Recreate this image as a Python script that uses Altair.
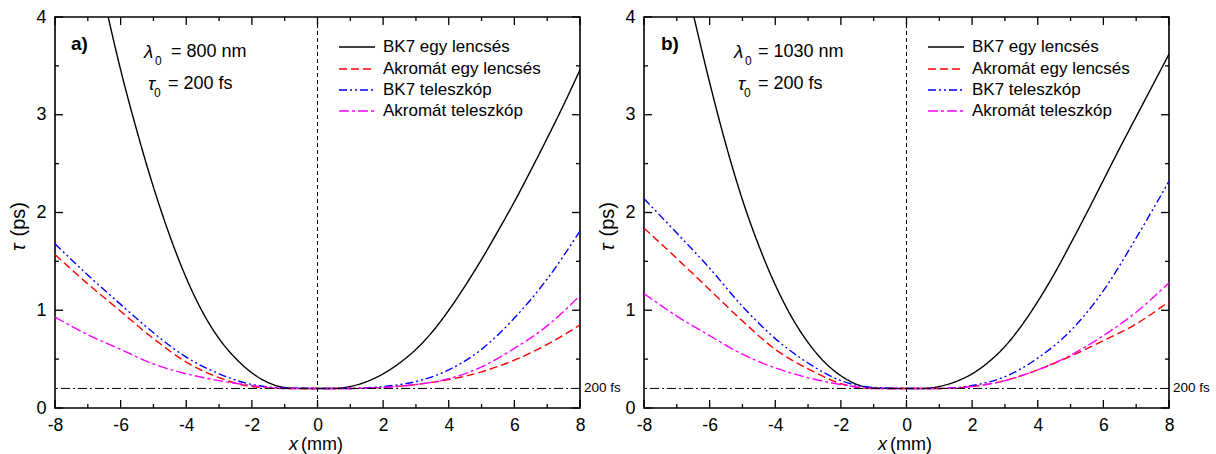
import altair as alt
import pandas as pd

# ---------------- data ----------------
SERIES = ["BK7 egy lencsés", "Akromát egy lencsés", "BK7 teleszkóp", "Akromát teleszkóp"]
COLORS = ["#000000", "#FF0000", "#0000FF", "#FF00FF"]
DASHES = [[1, 0], [8, 4], [8, 3, 2, 3, 2, 3], [10, 3, 3, 3]]

X_HALF = [-8, -7.5, -7, -6.5, -6, -5.5, -5, -4.5, -4, -3.5, -3, -2.5, -2, -1.5, -1, -0.5,
          0, 0.5, 1, 1.5, 2, 2.5, 3, 3.5, 4, 4.5, 5, 5.5, 6, 6.5, 7, 7.5, 8]
X_INT = [-8, -7, -6, -5, -4, -3, -2, -1, 0, 1, 2, 3, 4, 5, 6, 7, 8]

# panel a) lambda0 = 800 nm
BLACK_800 = [6.55, 5.74, 4.95, 4.18, 3.46, 2.83, 2.26, 1.76, 1.33, 0.98, 0.71, 0.51, 0.36, 0.26, 0.21, 0.20,
             0.20, 0.20, 0.22, 0.27, 0.35, 0.46, 0.60, 0.78, 1.00, 1.25, 1.52, 1.81, 2.11, 2.43, 2.76, 3.10, 3.46]
RED_800 = [1.57, 1.27, 0.99, 0.71, 0.47, 0.31, 0.22, 0.20, 0.20, 0.20, 0.21, 0.24, 0.29, 0.37, 0.49, 0.65, 0.85]
BLUE_800 = [1.68, 1.36, 1.06, 0.77, 0.52, 0.35, 0.24, 0.205, 0.20, 0.20, 0.22, 0.27, 0.39, 0.60, 0.92, 1.32, 1.81]
MAG_800 = [0.93, 0.75, 0.60, 0.45, 0.35, 0.28, 0.23, 0.20, 0.20, 0.20, 0.21, 0.24, 0.30, 0.42, 0.61, 0.84, 1.15]

# panel b) lambda0 = 1030 nm
BLACK_1030 = [6.3, 5.5, 4.75, 4.03, 3.33, 2.69, 2.13, 1.66, 1.26, 0.93, 0.67, 0.47, 0.33, 0.24, 0.205, 0.20,
              0.20, 0.20, 0.22, 0.27, 0.35, 0.47, 0.63, 0.84, 1.09, 1.37, 1.68, 2.00, 2.33, 2.66, 2.98, 3.30, 3.62]
RED_1030 = [1.84, 1.53, 1.21, 0.89, 0.60, 0.40, 0.25, 0.20, 0.20, 0.20, 0.22, 0.28, 0.39, 0.53, 0.69, 0.86, 1.09]
BLUE_1030 = [2.14, 1.79, 1.43, 1.04, 0.71, 0.46, 0.28, 0.21, 0.20, 0.20, 0.23, 0.32, 0.51, 0.79, 1.20, 1.74, 2.32]
MAG_1030 = [1.17, 0.94, 0.74, 0.55, 0.41, 0.31, 0.24, 0.20, 0.20, 0.20, 0.22, 0.28, 0.39, 0.54, 0.74, 0.98, 1.28]

X_MAJOR = [-8, -6, -4, -2, 0, 2, 4, 6, 8]
X_MINOR = [-7, -5, -3, -1, 1, 3, 5, 7]
Y_MAJOR = [0, 1, 2, 3, 4]
Y_MINOR = [0.5, 1.5, 2.5, 3.5]
TAU0 = [0.2]
TAU0_LABEL = ["200 fs"]

W, H = 525, 391
FONT = "Liberation Sans"

xs = alt.Scale(domain=[-8, 8], nice=False, zero=False)
ys = alt.Scale(domain=[0, 4], nice=False, zero=False)
XAXIS = alt.Axis(values=X_MAJOR, labelExpr="datum.value + ''", ticks=False, domain=False,
                 grid=False, labelFontSize=17.5, labelPadding=8, title=None,
                 labelColor="black", labelFont=FONT, labelFlush=False)
YAXIS = alt.Axis(values=Y_MAJOR, ticks=False, domain=False, grid=False, labelFontSize=18,
                 labelPadding=9, title=None, labelColor="black", labelFont=FONT)
ONE = pd.DataFrame({"a": [0]})


def txt(x, y, s, size, style="normal", weight="normal", align="left", angle=0):
    return alt.Chart(ONE).mark_text(
        align=align, baseline="middle", fontSize=size, fontStyle=style,
        fontWeight=weight, angle=angle, font=FONT, color="black"
    ).encode(x=alt.value(x), y=alt.value(y), text=alt.value(s))


def ticks(vals, axis, side, length):
    d = pd.DataFrame({"v": vals})
    m = alt.Chart(d).mark_rule(color="black", strokeWidth=1.3)
    if axis == "x":
        if side == "bottom":
            return m.encode(x=alt.X("v:Q", scale=xs, axis=XAXIS), y=alt.value(H), y2=alt.value(H - length))
        return m.encode(x=alt.X("v:Q", scale=xs, axis=XAXIS), y=alt.value(0), y2=alt.value(length))
    if side == "left":
        return m.encode(y=alt.Y("v:Q", scale=ys, axis=YAXIS), x=alt.value(0), x2=alt.value(length))
    return m.encode(y=alt.Y("v:Q", scale=ys, axis=YAXIS), x=alt.value(W), x2=alt.value(W - length))


def panel(black, red, blue, mag, tag, wl, eq_dx1, eq_dx2, tag_dx, lam_dx):
    rows = []
    for x, y in zip(X_HALF, black):
        rows.append({"x": x, "y": y, "s": SERIES[0]})
    for name, vals in zip(SERIES[1:], [red, blue, mag]):
        for x, y in zip(X_INT, vals):
            rows.append({"x": x, "y": y, "s": name})
    df = pd.DataFrame(rows)

    curves = alt.Chart(df).mark_line(clip=True, strokeWidth=1.4, interpolate="monotone").encode(
        x=alt.X("x:Q", scale=xs, axis=XAXIS),
        y=alt.Y("y:Q", scale=ys, axis=YAXIS),
        color=alt.Color("s:N", scale=alt.Scale(domain=SERIES, range=COLORS), legend=None),
        strokeDash=alt.StrokeDash("s:N", scale=alt.Scale(domain=SERIES, range=DASHES), legend=None),
        order=alt.Order("x:Q"),
    )

    vline = alt.Chart(pd.DataFrame({"v": [0]})).mark_rule(
        color="black", strokeWidth=1, strokeDash=[4, 3]
    ).encode(x=alt.X("v:Q", scale=xs, axis=XAXIS))

    hline = alt.Chart(pd.DataFrame({"v": TAU0})).mark_rule(
        color="black", strokeWidth=1, strokeDash=[9, 3, 2, 3]
    ).encode(y=alt.Y("v:Q", scale=ys, axis=YAXIS))

    hlabel = alt.Chart(pd.DataFrame({"v": TAU0, "t": TAU0_LABEL})).mark_text(
        align="left", baseline="middle", fontSize=13.5, dx=4, font=FONT, color="black"
    ).encode(x=alt.value(W), y=alt.Y("v:Q", scale=ys, axis=YAXIS), text="t:N")

    layers = [curves, vline, hline, hlabel,
              ticks(X_MAJOR, "x", "bottom", 8), ticks(X_MINOR, "x", "bottom", 4),
              ticks(X_MAJOR, "x", "top", 8), ticks(X_MINOR, "x", "top", 4),
              ticks(Y_MAJOR, "y", "left", 8), ticks(Y_MINOR, "y", "left", 4),
              ticks(Y_MAJOR, "y", "right", 8), ticks(Y_MINOR, "y", "right", 4)]

    # legend (drawn inside the plot, top right)
    legend_rows = [30, 52, 73, 94]
    for name, col, dash, yy in zip(SERIES, COLORS, DASHES, legend_rows):
        layers.append(alt.Chart(ONE).mark_rule(color=col, strokeWidth=1.4, strokeDash=dash).encode(
            x=alt.value(284), x2=alt.value(320), y=alt.value(yy)))
        layers.append(txt(328, yy, name, 17))

    # annotations
    layers += [
        txt(tag_dx, 27, tag, 19, weight="bold"),
        txt(lam_dx, 35, "λ", 19, style="italic"),
        txt(lam_dx + 11, 44, "0", 12),
        txt(eq_dx1, 35, "= " + wl, 18),
        txt(lam_dx + 4, 67, "τ", 19, style="italic"),
        txt(lam_dx + 10, 76, "0", 12),
        txt(eq_dx2, 67, "= 200 fs", 18),
        # axis titles
        txt(234, H + 37, "x", 18, style="italic"),
        txt(246, H + 37, "(mm)", 18),
        txt(-36, 234, "τ", 20, style="italic", angle=270),
        txt(-36, 219.5, "(ps)", 20, angle=270),
    ]
    return alt.layer(*layers).properties(width=W, height=H)


left = panel(BLACK_800, RED_800, BLUE_800, MAG_800, "a)", "800 nm", 116, 113, 16, 89)
right = panel(BLACK_1030, RED_1030, BLUE_1030, MAG_1030, "b)", "1030 nm", 114, 114, 17, 90)

chart = alt.hconcat(left, right, spacing=64, bounds="flush").properties(
    padding={"left": 8, "top": 7, "right": 0, "bottom": 0}
).configure(font=FONT).configure_view(stroke="black", strokeWidth=1.6)

chart.save("out.html", embed_options={"renderer": "svg", "actions": False})
